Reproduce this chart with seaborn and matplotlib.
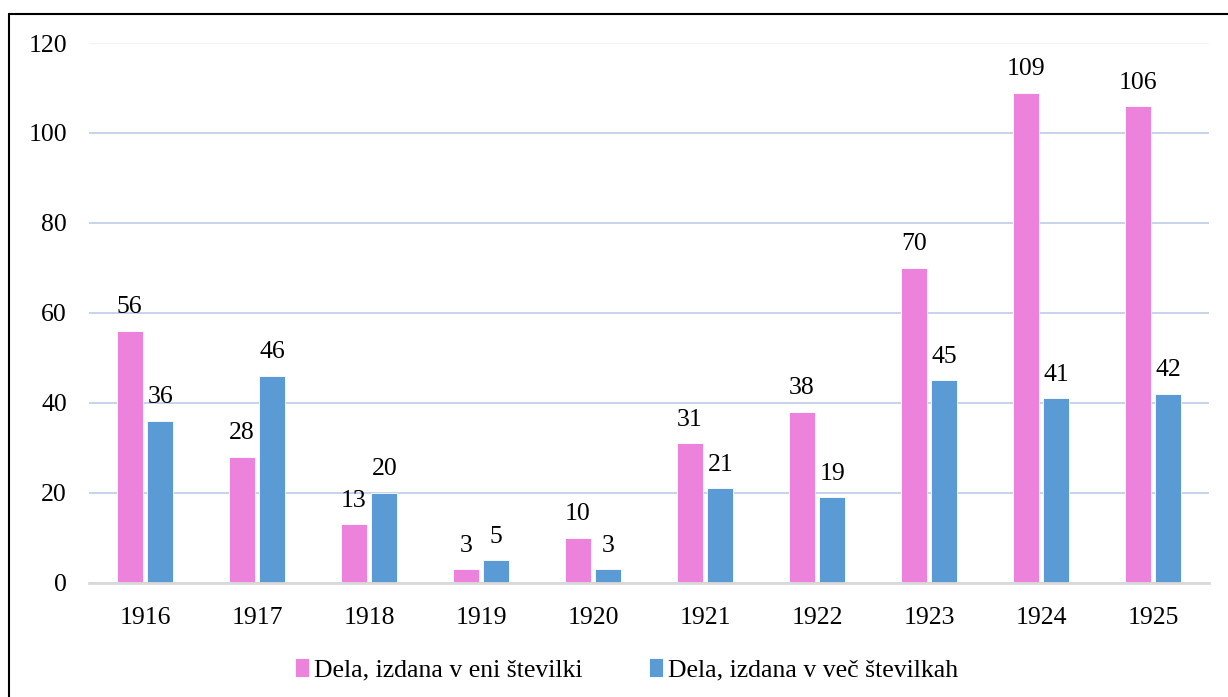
import pandas as pd
import seaborn as sns
import matplotlib.pyplot as plt
from matplotlib.lines import Line2D

# values
years = ['1916', '1917', '1918', '1919', '1920', '1921', '1922', '1923', '1924', '1925']
eni = [56, 28, 13, 3, 10, 31, 38, 70, 109, 106]
vec = [36, 46, 20, 5, 3, 21, 19, 45, 41, 42]
series = ['Dela, izdana v eni številki', 'Dela, izdana v več številkah']
colors = ['#EC82DC', '#5B9BD5']

df = pd.DataFrame({
    'leto': years * 2,
    'stevilo': eni + vec,
    'vrsta': [series[0]] * len(years) + [series[1]] * len(years),
})

sns.set_style('white')
plt.rcParams['font.family'] = ['Liberation Serif', 'DejaVu Serif']
plt.rcParams['text.color'] = 'black'
plt.rcParams['xtick.color'] = 'black'
plt.rcParams['ytick.color'] = 'black'

fig = plt.figure(figsize=(12.28, 6.97), dpi=100)
ax = fig.add_axes([0.0725, 0.1636, 0.912, 0.7747])

sns.barplot(data=df, x='leto', y='stevilo', hue='vrsta', palette=colors, saturation=1,
            width=0.546, gap=0.15, edgecolor='white', linewidth=0.6, ax=ax)

for cont in ax.containers:
    ax.bar_label(cont, padding=9, fontsize=18.5)

ax.set_ylim(0, 120)
ax.set_yticks(range(0, 121, 20))
ax.set_xlim(-0.5, len(years) - 0.5)
ax.yaxis.grid(True, color='#BCCCE9', linewidth=1.2)
ax.get_ygridlines()[-1].set_color('#EEF1F8')
ax.set_axisbelow(True)
for s in ['top', 'right', 'left']:
    ax.spines[s].set_visible(False)
ax.spines['bottom'].set_color('#D9D9D9')
ax.spines['bottom'].set_linewidth(2)
ax.tick_params(axis='both', length=0, labelsize=18.5)
ax.tick_params(axis='y', pad=16)
ax.tick_params(axis='x', pad=17)
ax.set_xlabel('')
ax.set_ylabel('')

ax.legend(loc='lower center', bbox_to_anchor=(0.48, -0.225), ncol=2, frameon=False,
          prop={'family': 'Liberation Serif', 'size': 18.5},
          handlelength=0.55, handleheight=0.8, handletextpad=0.2, columnspacing=2.6)

# outer frame (top and left edges visible)
fig.add_artist(Line2D([0.0073, 1.0], [0.98, 0.98], transform=fig.transFigure, color='black', linewidth=1.5))
fig.add_artist(Line2D([0.0073, 0.0073], [0.0, 0.98], transform=fig.transFigure, color='black', linewidth=1.5))

fig.savefig('out.png', dpi=100)
